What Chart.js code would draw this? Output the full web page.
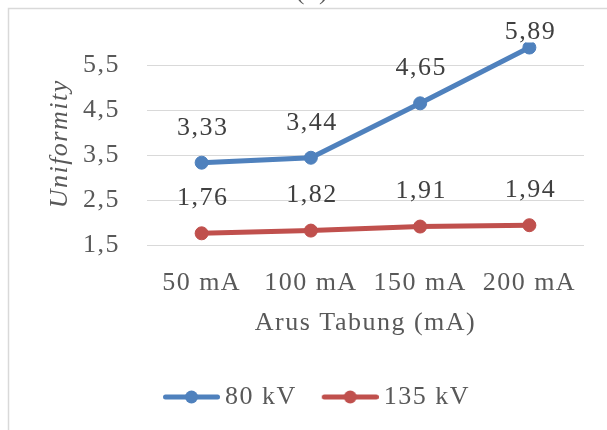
<!DOCTYPE html>
<html><head><meta charset="utf-8">
<script src="https://cdn.jsdelivr.net/npm/chart.js@4.4.1/dist/chart.umd.min.js"></script>
<style>
html,body{margin:0;padding:0;background:#fff;overflow:hidden;width:607px;height:430px;}
canvas{display:block;}
</style></head><body>
<canvas id="c" width="625" height="430" style="width:625px;height:430px"></canvas>
<script>
const categories = ['50 mA', '100 mA', '150 mA', '200 mA'];
const series80 = [3.33, 3.44, 4.65, 5.89];
const series135 = [1.76, 1.82, 1.91, 1.94];
const seriesNames = ['80 kV', '135 kV'];
const yTickValues = [1.5, 2.5, 3.5, 4.5, 5.5];
const yAxisTitle = 'Uniformity';
const xAxisTitle = 'Arus Tabung (mA)';
const panelLabel = '(a)';

const FONT = "'Liberation Serif','Times New Roman',serif";
const FS = 26;
const SPACING = '1.5px';
const BLUE = '#4F81BD', RED = '#C0504D';
const fmt = v => String(v).replace('.', ',');

function legendIcon(color) {
  const c = document.createElement('canvas');
  c.width = 73; c.height = 16;
  const g = c.getContext('2d');
  g.strokeStyle = color; g.lineWidth = 5; g.lineCap = 'round';
  g.beginPath(); g.moveTo(18.5, 8); g.lineTo(70.5, 8); g.stroke();
  g.fillStyle = color; g.beginPath(); g.arc(44.5, 8, 6.5, 0, Math.PI * 2); g.fill();
  return c;
}
const icons = [legendIcon(BLUE), legendIcon(RED)];

const decor = {
  id: 'decor',
  beforeLayout(chart) { chart.ctx.letterSpacing = SPACING; },
  afterLayout(chart) { if (chart.legend) chart.legend.right = chart.width; },
  beforeDraw(chart) {
    const ctx = chart.ctx;
    ctx.letterSpacing = SPACING;
    ctx.save();
    ctx.fillStyle = '#fff'; ctx.fillRect(0, 0, chart.width, chart.height);
    ctx.strokeStyle = '#d9d9d9'; ctx.lineWidth = 1.5;
    ctx.strokeRect(8.5, 8.5, 609, 440);
    ctx.fillStyle = '#595959'; ctx.font = FS + 'px ' + FONT;
    ctx.textAlign = 'center'; ctx.textBaseline = 'alphabetic';
    ctx.fillText(panelLabel, 312.5, -1);
    ctx.restore();
  },
  afterDatasetsDraw(chart) {
    const ctx = chart.ctx;
    ctx.save();
    ctx.font = FS + 'px ' + FONT; ctx.fillStyle = '#404040';
    ctx.textAlign = 'center'; ctx.textBaseline = 'middle';
    chart.data.datasets.forEach((ds, i) => {
      chart.getDatasetMeta(i).data.forEach((pt, j) => {
        ctx.fillText(fmt(ds.data[j]), pt.x + 1, Math.max(pt.y - 35, 32));
      });
    });
    ctx.restore();
  }
};

new Chart(document.getElementById('c'), {
  type: 'line',
  data: {
    labels: categories,
    datasets: [
      { label: seriesNames[0], data: series80, borderColor: BLUE, backgroundColor: BLUE,
        borderWidth: 5, borderCapStyle: 'round', pointRadius: 6.5, pointBorderWidth: 1,
        pointBackgroundColor: BLUE, pointBorderColor: BLUE, tension: 0 },
      { label: seriesNames[1], data: series135, borderColor: RED, backgroundColor: RED,
        borderWidth: 5, borderCapStyle: 'round', pointRadius: 6.5, pointBorderWidth: 1,
        pointBackgroundColor: RED, pointBorderColor: RED, tension: 0 }
    ]
  },
  options: {
    responsive: false,
    animation: false,
    layout: { padding: { top: 32, right: 41, bottom: 10, left: 0 } },
    scales: {
      x: {
        offset: true,
        grid: { display: false, drawTicks: false },
        border: { display: false },
        ticks: { padding: 23, color: '#595959', font: { family: FONT, size: FS }, maxRotation: 0, autoSkip: false },
        title: { display: true, text: xAxisTitle, color: '#595959', font: { family: FONT, size: FS }, padding: { top: 0, bottom: 28 } },
        afterFit: s => { s.height = 122; }
      },
      y: {
        min: 1.5, max: 6.0,
        afterBuildTicks: s => { s.ticks = yTickValues.map(v => ({ value: v })); },
        afterFit: s => { s.width = 147; },
        border: { display: false },
        grid: { color: '#d9d9d9', lineWidth: 1, drawTicks: false },
        ticks: { padding: 27, color: '#595959', font: { family: FONT, size: FS }, callback: v => fmt(v) },
        title: { display: true, text: yAxisTitle, color: '#595959', font: { family: FONT, size: FS, style: 'italic' }, padding: { top: 45, bottom: 0 } }
      }
    },
    plugins: {
      tooltip: { enabled: false },
      legend: {
        position: 'bottom',
        labels: {
          usePointStyle: true, pointStyleWidth: 57, padding: 17,
          color: '#595959', font: { family: FONT, size: FS },
          generateLabels: chart => chart.data.datasets.map((ds, i) => ({
            text: ds.label, pointStyle: icons[i], fillStyle: ds.borderColor,
            strokeStyle: ds.borderColor, lineWidth: 0, hidden: false, datasetIndex: i, fontColor: '#595959'
          }))
        }
      }
    }
  },
  plugins: [decor]
});
</script>
</body></html>
